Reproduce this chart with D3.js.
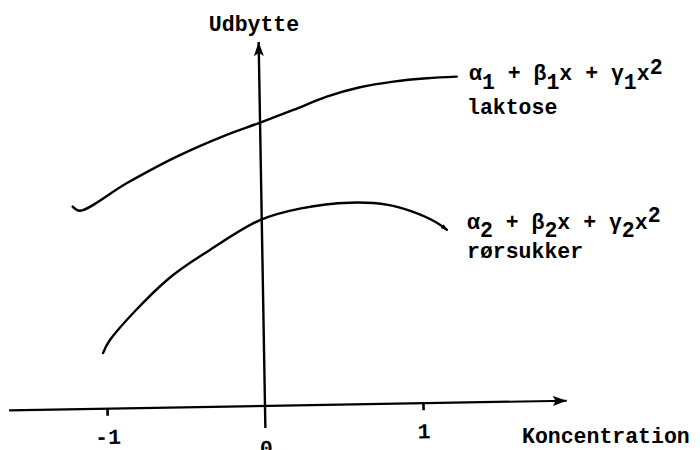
<!DOCTYPE html>
<html>
<head>
<meta charset="utf-8">
<script src="https://cdn.jsdelivr.net/npm/d3@7"></script>
<style>
  body { margin: 0; background: #fff; }
  svg { display: block; background: #fff; }
  text { font-family: "Liberation Mono", "DejaVu Sans Mono", monospace; font-weight: bold; font-size: 21.5px; fill: #000; }
</style>
</head>
<body>
<svg id="chart" width="700" height="450"></svg>
<script>
// Yield curves over concentration (coded units)
const concLaktose  = [-1.195, -1.149, -0.851, -0.531, -0.213, -0.011, 0.212, 0.425, 0.636, 0.848, 1.060, 1.250];
const yieldLaktose = [ 2.027,  1.985,  2.251,  2.508,  2.717,  2.828, 2.955, 3.082, 3.170, 3.221, 3.249, 3.260];

const concRoer  = [-1.019, -0.974, -0.606, -0.331, -0.011, 0.250, 0.560, 0.800, 0.950, 1.100, 1.170];
const yieldRoer = [ 0.558,  0.687,  1.277,  1.570,  1.860, 1.970, 2.018, 1.990, 1.920, 1.810, 1.730];

const xTickValues = [-1, 1];
const xTickLabels = ["-1", "1"];
const originTick = [0];
const originLabel = "0";

const xAxisExtent = [-1.62, 1.91];
const yAxisExtent = [-0.22, 3.64];

const xTitle = "Koncentration";
const yTitle = "Udbytte";

const svg = d3.select("#chart");

const x = d3.scaleLinear().domain([-1, 1]).range([-158, 158]);
const y = d3.scaleLinear().domain([0, 1]).range([0, -100]);

const defs = svg.append("defs");
defs.append("marker")
  .attr("id", "axisArrow")
  .attr("viewBox", "0 0 14 10")
  .attr("refX", 14).attr("refY", 5)
  .attr("markerWidth", 14).attr("markerHeight", 10)
  .attr("markerUnits", "userSpaceOnUse")
  .attr("orient", "auto")
  .append("path").attr("d", "M0,0 L14,5 L0,10 L3,5 Z").attr("fill", "#000");
defs.append("marker")
  .attr("id", "curveArrow")
  .attr("viewBox", "0 0 8 6")
  .attr("refX", 7).attr("refY", 3)
  .attr("markerWidth", 7).attr("markerHeight", 5)
  .attr("markerUnits", "userSpaceOnUse")
  .attr("orient", "auto")
  .append("path").attr("d", "M0,0 L8,3 L0,6 Z").attr("fill", "#000");

// Plot frame sits slightly tilted, with the origin at the axis crossing
const plot = svg.append("g").attr("transform", "translate(265,406) rotate(-1)");

// Horizontal axis line with arrow
plot.append("line")
  .attr("x1", x(xAxisExtent[0])).attr("y1", y(0))
  .attr("x2", x(xAxisExtent[1])).attr("y2", y(0))
  .attr("stroke", "#000").attr("stroke-width", 2.2)
  .attr("marker-end", "url(#axisArrow)");

// Vertical axis line with arrow
plot.append("line")
  .attr("x1", x(0)).attr("y1", y(yAxisExtent[0]))
  .attr("x2", x(0)).attr("y2", y(yAxisExtent[1]))
  .attr("stroke", "#000").attr("stroke-width", 2.4)
  .attr("marker-end", "url(#axisArrow)");

// Tick marks at -1 and 1
const xAxis = d3.axisBottom(x)
  .tickValues(xTickValues)
  .tickSize(7)
  .tickPadding(13)
  .tickFormat((d, i) => xTickLabels[i]);
const gx = plot.append("g").call(xAxis);
gx.select(".domain").remove();
gx.selectAll(".tick line").attr("stroke", "#000").attr("stroke-width", 2.6);
gx.selectAll(".tick text").attr("font-size", null).attr("font-family", null).attr("fill", "#000");

// Label at the origin
const gx0 = plot.append("g").call(
  d3.axisBottom(x).tickValues(originTick).tickSize(0).tickPadding(34).tickFormat(() => originLabel)
);
gx0.select(".domain").remove();
gx0.selectAll(".tick line").remove();
gx0.selectAll(".tick text").attr("font-size", null).attr("font-family", null).attr("fill", "#000");

// Curves
const line = d3.line()
  .x(d => x(d[0]))
  .y(d => y(d[1]))
  .curve(d3.curveCatmullRom.alpha(0.5));

plot.append("path")
  .datum(d3.zip(concLaktose, yieldLaktose))
  .attr("d", line)
  .attr("fill", "none").attr("stroke", "#000").attr("stroke-width", 2.4)
  .attr("stroke-linecap", "round").attr("stroke-linejoin", "round");

plot.append("path")
  .datum(d3.zip(concRoer, yieldRoer))
  .attr("d", line)
  .attr("fill", "none").attr("stroke", "#000").attr("stroke-width", 2.4)
  .attr("stroke-linecap", "round")
  .attr("marker-end", "url(#curveArrow)");

// Axis titles
svg.append("text").attr("x", 254).attr("y", 31).attr("text-anchor", "middle").text(yTitle);
svg.append("text").attr("x", 522).attr("y", 443).text(xTitle);

// Curve labels: model expression and sugar name
function modelLabel(x0, y0, k, sub, sup) {
  const t = svg.append("text").attr("x", x0).attr("y", y0).attr("xml:space", "preserve");
  t.append("tspan").text("\u03b1");
  t.append("tspan").attr("dy", sub).text(k);
  t.append("tspan").attr("dy", -sub).text(" + \u03b2");
  t.append("tspan").attr("dy", sub).text(k);
  t.append("tspan").attr("dy", -sub).text("x + \u03b3");
  t.append("tspan").attr("dy", sub).text(k);
  t.append("tspan").attr("dy", -sub).text("x");
  t.append("tspan").attr("dy", -sup).text("2");
}
modelLabel(469, 80, "1", 9, 6);
svg.append("text").attr("x", 467).attr("y", 114).text("laktose");
modelLabel(467, 229, "2", 8, 7);
svg.append("text").attr("x", 467).attr("y", 258).text("r\u00f8rsukker");
</script>
</body>
</html>
